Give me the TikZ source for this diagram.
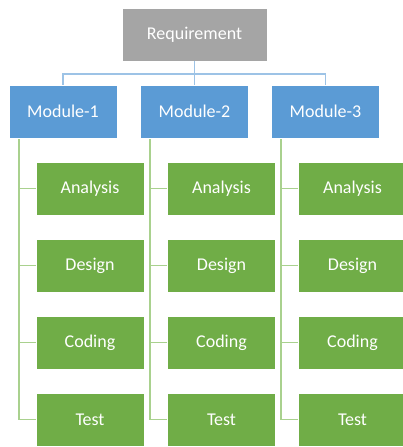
\documentclass[tikz,border=0pt]{standalone}
\usepackage{fontspec}
\setmainfont{Carlito}
\usepackage{xcolor}
\usetikzlibrary{positioning}

\definecolor{reqgray}{HTML}{A5A5A5}
\definecolor{modblue}{HTML}{5B9BD5}
\definecolor{taskgreen}{HTML}{70AD47}
\definecolor{bluewire}{HTML}{9DC3E6}
\definecolor{greenwire}{HTML}{A9D18E}

\begin{document}
\begin{tikzpicture}[
  x=1pt, y=-1pt,
  box/.style = {rectangle, draw=white, line width=0.6pt,
                minimum width=108pt, minimum height=53pt,
                inner sep=0pt, text=white, font=\fontsize{18}{21}\selectfont},
  reqbox/.style  = {box, fill=reqgray, minimum width=145pt},
  modbox/.style  = {box, fill=modblue},
  taskbox/.style = {box, fill=taskgreen},
  bluelink/.style  = {draw=bluewire, line width=1.8pt},
  greenlink/.style = {draw=greenwire, line width=1.8pt}
]
  \useasboundingbox (0,0) rectangle (403,447);

  \node[reqbox] (req) at (194.5,34.5) {Requirement};

  % modules and their task columns
  \foreach \i/\x in {1/63, 2/194.5, 3/325.5} {
    \node[modbox] (m\i) at (\x,111.5) {Module-\i};
    \foreach \t [count=\j] in {Analysis, Design, Coding, Test}
      \node[taskbox] (t\i\j) at (\x+27,111.5+77*\j) {\t};
  }

  % requirement to modules
  \foreach \i in {1,2,3}
    \draw[bluelink] (req.south) -- ++(0,13) -| (m\i.north);

  % modules to tasks
  \foreach \i in {1,2,3}
    \foreach \j in {1,...,4}
      \draw[greenlink] ([xshift=10pt,yshift=-1pt]m\i.south west) |- (t\i\j.west);
\end{tikzpicture}
\end{document}
